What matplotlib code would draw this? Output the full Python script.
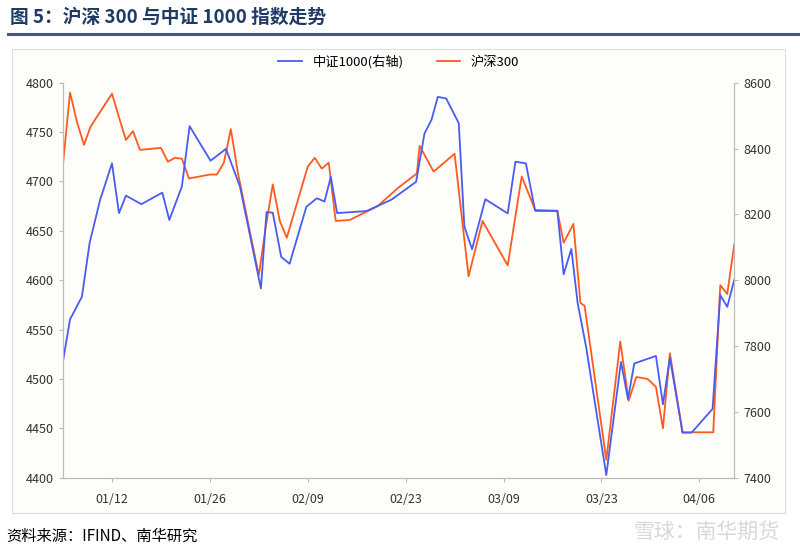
import numpy as np
import matplotlib
matplotlib.use("Agg")
from matplotlib import pyplot as plt
from matplotlib.patches import Rectangle

plt.rcParams['font.family'] = ['Noto Sans CJK SC', 'DejaVu Sans']

# days counted from 01/05
hs300_day = [0, 1, 2, 3, 3.9, 7, 8, 9, 10, 11, 14, 15, 16, 17, 18, 21, 22, 23, 24, 25,
             28, 29, 30, 31, 32, 35, 36, 37, 38, 39, 41, 45, 48, 50.6, 51, 53, 56, 58,
             60, 63.6, 65.6, 67.6, 70.7, 71.6, 73, 74, 74.6, 77.7, 79.7, 80.9, 82, 83.6,
             84.8, 85.8, 86.8, 88.6, 93, 94, 95, 96]
hs300 = [4718, 4790, 4760, 4737, 4755, 4789, 4765, 4742, 4751, 4732, 4734, 4720, 4724, 4723,
         4703, 4707, 4707, 4719, 4753, 4709, 4605, 4654, 4697, 4660, 4643, 4715, 4724, 4713,
         4719, 4660, 4661, 4675, 4694, 4708, 4736, 4710, 4728, 4604, 4660, 4615, 4705, 4670,
         4670, 4638, 4657, 4577, 4574, 4418, 4538, 4478, 4502, 4500, 4492, 4450, 4526, 4446,
         4446, 4595, 4586, 4636]

zz1000_day = [0, 1, 2.7, 3.8, 5.3, 7, 8, 9, 11.2, 14.2, 15.2, 17, 18.1, 21.1, 23.3, 25.3,
              28.3, 29.1, 30, 31.2, 32.4, 34.8, 36.3, 37.4, 38.3, 39.2, 43.4, 47, 50.5,
              51.7, 52.7, 53.6, 54.8, 56.6, 57.4, 58.5, 60.4, 63.6, 64.7, 66.2, 67.5, 70.7,
              71.6, 72.7, 73.6, 74.8, 77.7, 79.8, 80.8, 81.7, 84.8, 85.8, 86.8, 88.6, 89.9,
              92.9, 94, 95, 96]
zz1000 = [7755, 7881, 7950, 8113, 8244, 8355, 8204, 8257, 8231, 8266, 8183, 8285, 8468, 8363,
          8399, 8285, 7975, 8207, 8205, 8071, 8050, 8223, 8249, 8239, 8314, 8204, 8210, 8245,
          8299, 8446, 8487, 8557, 8552, 8477, 8163, 8094, 8246, 8203, 8360, 8355, 8213, 8211,
          8018, 8095, 7931, 7799, 7408, 7752, 7639, 7747, 7770, 7623, 7764, 7537, 7537, 7609,
          7955, 7919, 8001]

tick_days = [7, 21, 35, 49, 63, 77, 91]
tick_labels = ["01/12", "01/26", "02/09", "02/23", "03/09", "03/23", "04/06"]

bg = "#fdfdf9"
fig = plt.figure(figsize=(8, 5.54), dpi=100, facecolor="white")

fig.text(0.012, 0.968, "图 5：沪深 300 与中证 1000 指数走势", fontsize=13.5,
         fontweight="bold", color="#1f3b64", va="center")
fig.add_artist(plt.Line2D([0.01, 1.0], [0.938, 0.938], color="#3f5a84", lw=2.2))
fig.add_artist(Rectangle((0.015, 0.074), 0.966, 0.838, facecolor=bg, zorder=-10,
                         edgecolor="#dddddd", lw=0.8, transform=fig.transFigure))
fig.text(0.008, 0.032, "资料来源：IFIND、南华研究", fontsize=11, color="black", va="center")
fig.text(0.975, 0.040, "雪球：南华期货", fontsize=15, color="#d8d8d8", ha="right", va="center")

ax = fig.add_axes([0.0788, 0.1377, 0.839, 0.713])
ax.set_facecolor(bg)
ax2 = ax.twinx()

l2, = ax.plot(hs300_day, hs300, color="#ff5a1f", lw=1.3, label="沪深300")
l1, = ax2.plot(zz1000_day, zz1000, color="#4a5cf0", lw=1.3, label="中证1000(右轴)")

ax.set_xlim(0, 96)
ax.set_ylim(4400, 4800)
ax2.set_ylim(7400, 8600)
ax.set_yticks(range(4400, 4801, 50))
ax2.set_yticks(range(7400, 8601, 200))
ax.set_xticks(tick_days)
ax.set_xticklabels(tick_labels)

for a in (ax, ax2):
    a.spines["top"].set_visible(False)
    for s in ("left", "right", "bottom"):
        a.spines[s].set_color("#bbbbbb")
    a.tick_params(colors="#333333", labelsize=9, length=3)
    a.tick_params(axis="both", color="#bbbbbb")
ax.tick_params(axis="x", pad=8)

ax.legend(handles=[l1, l2], loc="lower center", bbox_to_anchor=(0.5, 1.005), ncol=2,
          frameon=False, fontsize=9.5, handlelength=1.8, columnspacing=2.5)

fig.savefig("out.png", dpi=100, facecolor="white")
